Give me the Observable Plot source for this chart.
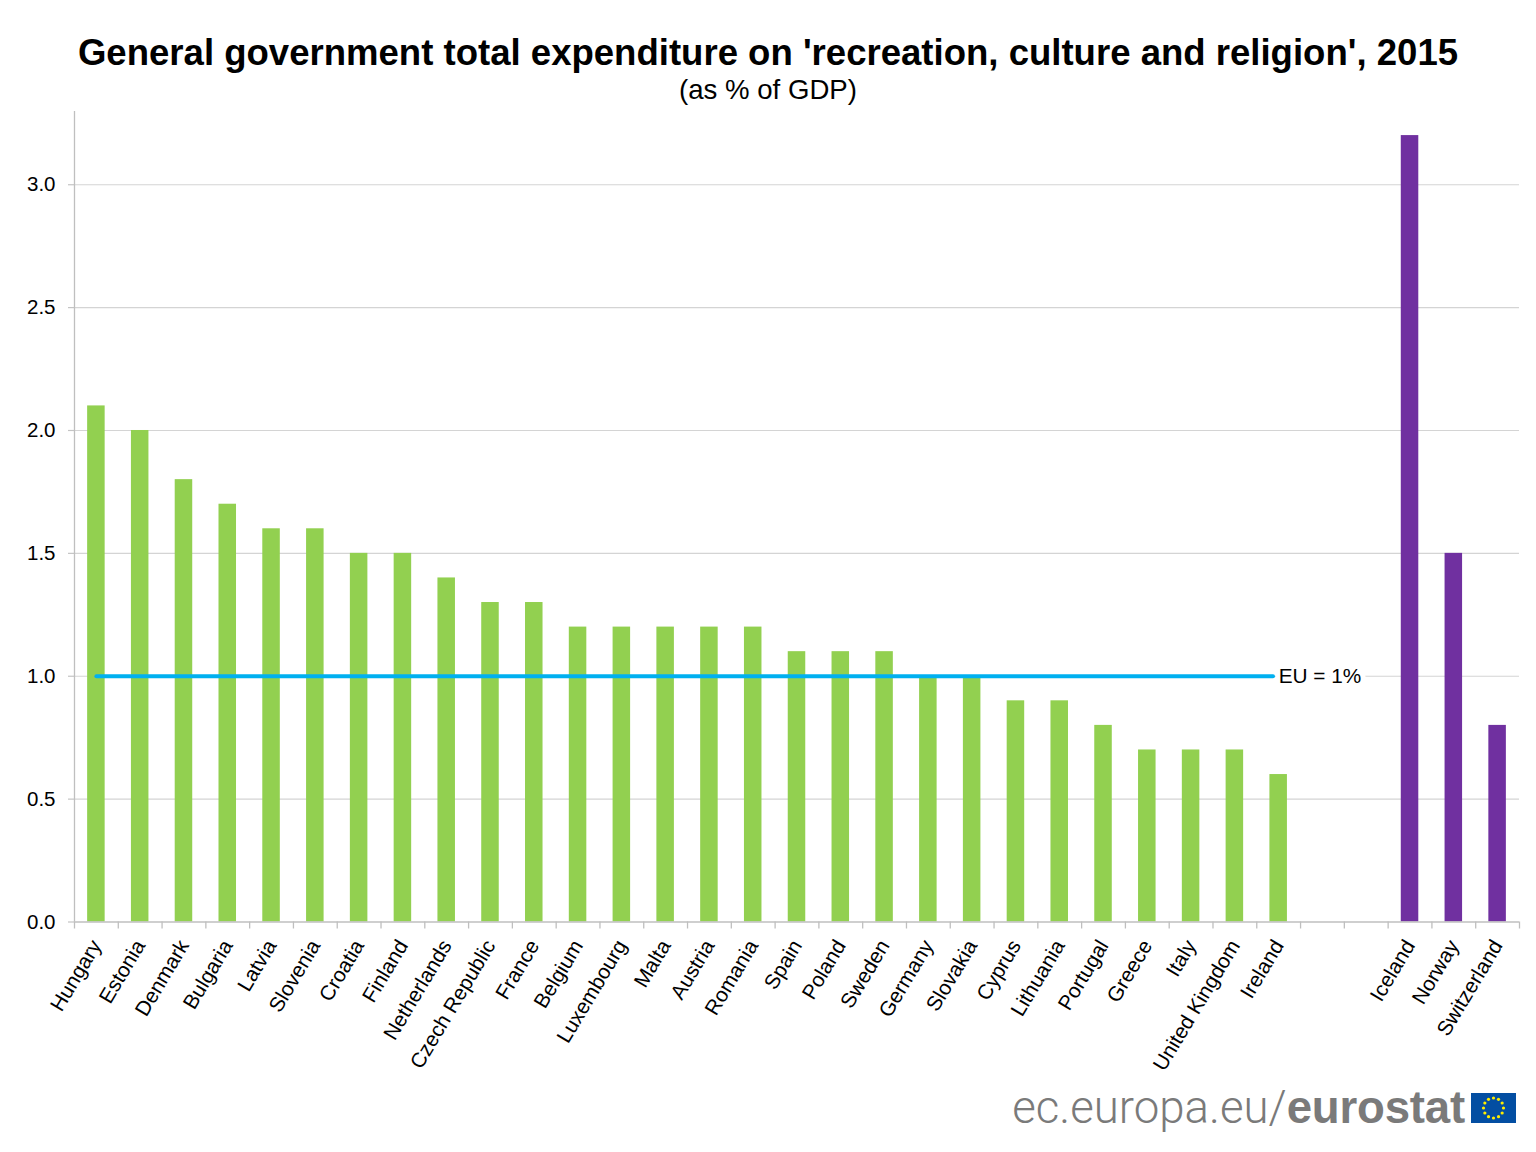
<!DOCTYPE html>
<html>
<head>
<meta charset="utf-8">
<script src="https://cdn.jsdelivr.net/npm/d3@7"></script>
<script src="https://cdn.jsdelivr.net/npm/@observablehq/plot@0.6"></script>
<style>
html,body{margin:0;padding:0;background:#fff;font-family:"Liberation Sans",Arial,sans-serif;}
#page{width:1536px;height:1152px;position:relative;overflow:hidden;}
#head{height:105px;text-align:center;color:#000;box-sizing:border-box;padding-top:31.5px;}
#title{font-size:36.55px;font-weight:700;line-height:42px;}
#sub{font-size:27.6px;line-height:32px;margin-top:0.5px;}
svg{display:block;}
#logo{height:40px;display:flex;justify-content:flex-end;align-items:center;padding-right:20px;color:#7a7a7a;font-size:45.6px;line-height:40px;margin-top:3px;}
#logo b{font-weight:700;}
#logo svg{margin-left:6px;}
</style>
</head>
<body>
<div id="page">
<div id="head">
<div id="title">General government total expenditure on 'recreation, culture and religion', 2015</div>
<div id="sub">(as % of GDP)</div>
</div>
<div id="chart"></div>
<div id="logo"><span style="font-family:Roboto;font-weight:300;letter-spacing:0px">ec.europa.eu/</span><b style="letter-spacing:-0.2px">eurostat</b><span id="flag"></span></div>
</div>
<script>
const euCountries = ["Hungary","Estonia","Denmark","Bulgaria","Latvia","Slovenia","Croatia","Finland","Netherlands","Czech Republic","France","Belgium","Luxembourg","Malta","Austria","Romania","Spain","Poland","Sweden","Germany","Slovakia","Cyprus","Lithuania","Portugal","Greece","Italy","United Kingdom","Ireland"];
const euValues = [2.1,2.0,1.8,1.7,1.6,1.6,1.5,1.5,1.4,1.3,1.3,1.2,1.2,1.2,1.2,1.2,1.1,1.1,1.1,1.0,1.0,0.9,0.9,0.8,0.7,0.7,0.7,0.6];
const efta = ["Iceland","Norway","Switzerland"];
const eftaValues = [3.2,1.5,0.8];
const euAverage = 1.0;
const euLabel = "EU = 1%";
const yTicks = [0,0.5,1,1.5,2,2.5,3];
const green = "#92D050", purple = "#7030A0", blue = "#00B0F0";
const gapSlots = 2;
const slots = euCountries.length + gapSlots + efta.length;

const rows = [
  ...euCountries.map((name,i)=>({name,value:euValues[i],slot:i,color:green})),
  ...efta.map((name,i)=>({name,value:eftaValues[i],slot:euCountries.length+gapSlots+i,color:purple}))
];
const nameAt = new Map(rows.map(d=>[d.slot+0.5,d.name]));
const lineData = [{x:0.5,y:euAverage},{x:27.37,y:euAverage}];

const plot = Plot.plot({
  width:1536, height:980,
  marginLeft:74, marginRight:17, marginTop:6, marginBottom:163.5,
  style:{fontFamily:"Liberation Sans, Arial, sans-serif",background:"#fff",color:"#000"},
  x:{domain:[0,slots],label:null},
  y:{domain:[0,3.298],label:null},
  marks:[
    Plot.ruleY(yTicks.filter(d=>d>0),{stroke:"#d4d4d4",strokeWidth:1.2}),
    Plot.text([{x:27.5,y:euAverage}],{x:"x",y:"y",text:()=>euLabel,textAnchor:"start",fill:"#000",fontSize:20.8,stroke:"#fff",strokeWidth:10,paintOrder:"stroke"}),
    Plot.rectY(rows,{x1:d=>d.slot+0.3,x2:d=>d.slot+0.7,y1:0,y2:"value",fill:"color"}),
    Plot.line(lineData,{x:"x",y:"y",stroke:blue,strokeWidth:4}),
    Plot.axisY({ticks:yTicks,tickFormat:d3.format(".1f"),tickSize:0,tickPadding:19,fontSize:20.5,label:null,anchor:"left"}),
    Plot.axisY({ticks:yTicks,tickFormat:()=>"",tickSize:6,stroke:"#c4c4c4",strokeWidth:1.2,label:null,anchor:"left"}),
    Plot.axisX({ticks:d3.range(slots+1),tickFormat:()=>"",tickSize:7,stroke:"#bfbfbf",strokeWidth:1.3,label:null,anchor:"bottom"}),
    Plot.axisX({ticks:[...nameAt.keys()],tickFormat:d=>nameAt.get(d),tickSize:0,tickPadding:20,tickRotate:-59,fontSize:20.8,label:null,anchor:"bottom"}),
    Plot.ruleX([0],{stroke:"#bfbfbf",strokeWidth:1.3}),
    Plot.ruleY([0],{stroke:"#bfbfbf",strokeWidth:1.3})
  ]
});
plot.style.overflow="visible";
document.getElementById("chart").appendChild(plot);

// EU flag beside the wordmark
const flagW=45, flagH=30;
const flag=d3.select("#flag").append("svg").attr("width",flagW).attr("height",flagH);
flag.append("rect").attr("width",flagW).attr("height",flagH).attr("fill","#034EA2");
d3.range(12).forEach(i=>{
  const a=i*Math.PI/6;
  flag.append("circle").attr("cx",flagW/2+10*Math.cos(a)).attr("cy",flagH/2+10*Math.sin(a)).attr("r",1.6).attr("fill","#FFED00");
});
</script>
</body>
</html>
